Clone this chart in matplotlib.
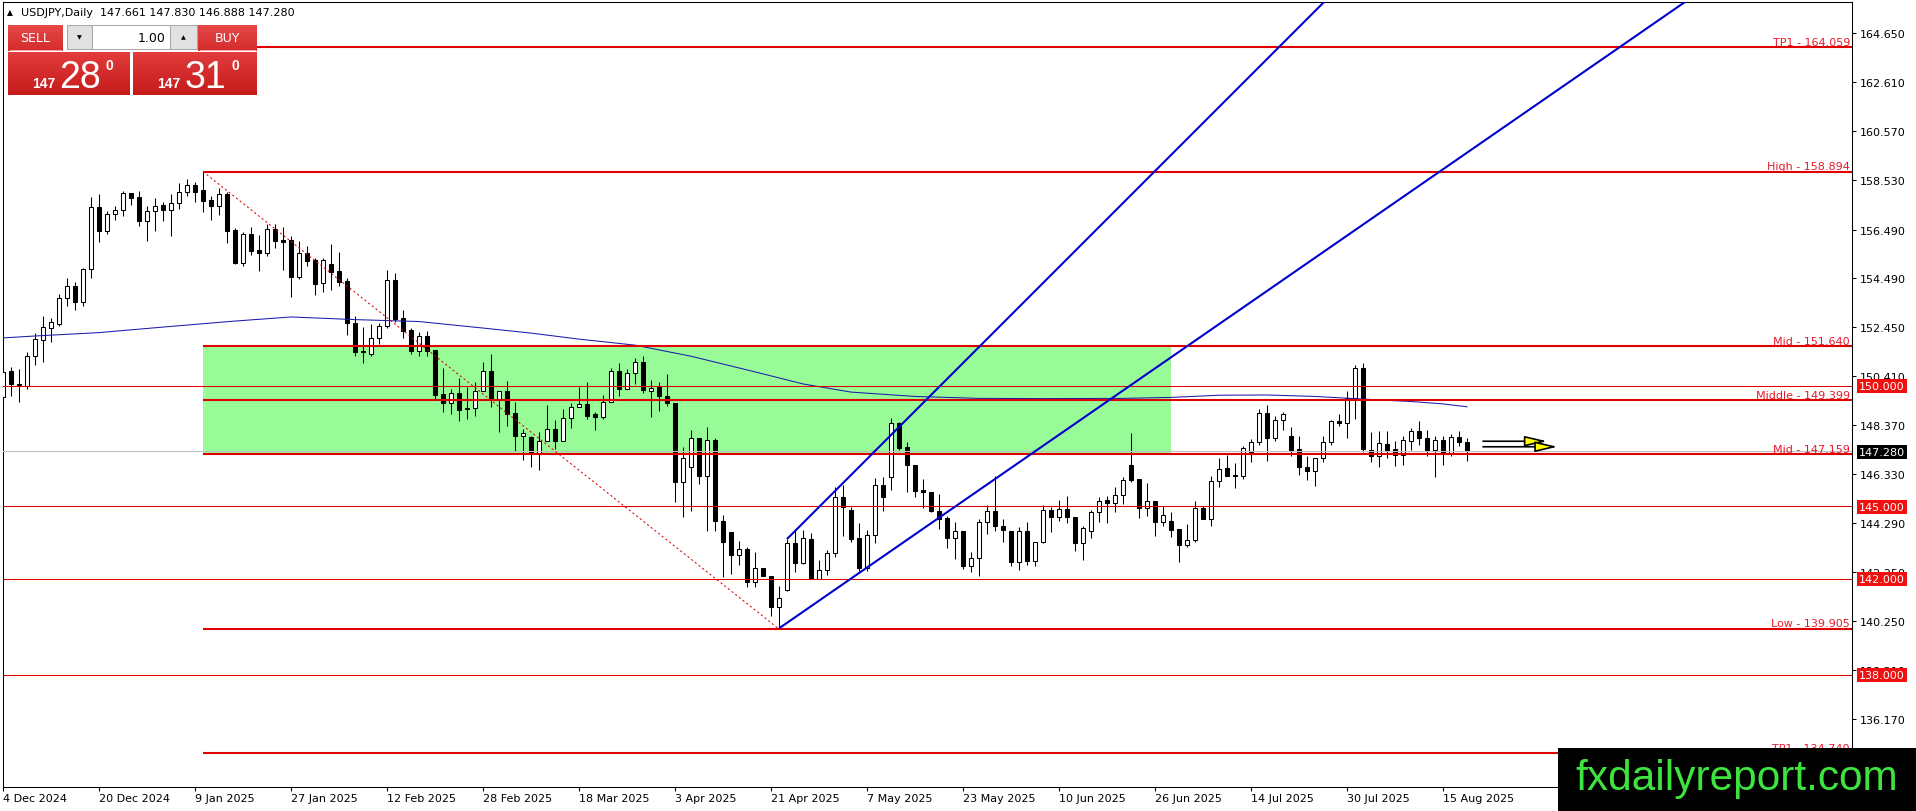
import numpy as np
import matplotlib
matplotlib.use("Agg")
import matplotlib.pyplot as plt
from matplotlib.patches import Rectangle
from matplotlib.colors import LinearSegmentedColormap

# USDJPY daily bars, bar 0 = 4 Dec 2024 ... bar 183 = 20 Aug 2025
opens = [149.55, 150.60, 150.06, 150.01, 151.23, 151.92, 152.42, 152.57, 153.63, 154.13,
         153.47, 154.85, 157.41, 156.44, 157.12, 157.31, 157.99, 157.83, 156.83, 157.27,
         157.49, 157.31, 157.58, 158.03, 158.34, 158.15, 157.72, 157.48, 157.97, 156.47,
         155.10, 156.29, 155.64, 155.50, 156.51, 156.05, 156.05, 154.50, 155.50, 155.24,
         154.26, 155.06, 154.75, 154.34, 152.61, 151.45, 151.31, 151.97, 152.47, 154.39,
         152.80, 152.32, 151.46, 152.05, 151.49, 149.66, 149.27, 149.70, 149.09, 149.07,
         149.77, 150.62, 149.45, 149.80, 148.87, 147.93, 147.89, 147.17, 147.70, 148.21,
         147.72, 148.65, 149.11, 149.23, 148.82, 148.72, 149.32, 150.63, 149.87, 150.52,
         151.00, 149.77, 149.97, 149.59, 149.27, 146.02, 146.62, 147.82, 146.27, 147.75,
         144.40, 143.92, 142.99, 143.23, 141.84, 142.42, 142.12, 140.83, 141.54, 143.48,
         142.63, 143.63, 141.98, 142.35, 143.06, 145.40, 144.85, 143.67, 142.42, 143.81,
         145.90, 146.20, 148.44, 147.45, 146.73, 145.67, 145.58, 144.82, 144.50, 143.67,
         143.99, 142.53, 142.84, 144.33, 144.82, 144.17, 143.98, 142.67, 143.96, 142.74,
         143.50, 144.85, 144.57, 144.89, 144.57, 143.46, 143.99, 144.75, 145.26, 145.12,
         145.47, 146.71, 146.13, 144.91, 145.23, 144.36, 144.40, 144.06, 143.40, 143.61,
         144.91, 144.47, 146.03, 146.58, 146.30, 146.24, 147.24, 147.68, 148.87, 147.85,
         148.58, 147.90, 147.38, 146.63, 146.48, 146.99, 147.65, 148.54, 148.44, 149.48,
         150.73, 147.34, 147.07, 147.57, 147.38, 147.13, 147.72, 148.11, 147.83, 147.35,
         147.75, 147.21, 147.86, 147.661]
highs = [151.18, 150.77, 150.70, 151.39, 152.19, 152.89, 152.80, 153.81, 154.46, 154.30,
         154.90, 157.83, 157.97, 157.27, 157.45, 158.10, 158.00, 158.08, 157.48, 157.81,
         157.62, 157.97, 158.42, 158.59, 158.48, 158.89, 157.90, 158.20, 158.06, 156.54,
         156.37, 156.58, 156.26, 156.72, 156.72, 156.58, 156.23, 156.03, 155.79, 155.29,
         155.29, 155.89, 155.54, 154.46, 152.89, 152.43, 152.57, 152.61, 154.81, 154.69,
         153.16, 152.39, 152.22, 152.29, 151.50, 150.73, 149.87, 150.33, 149.94, 150.15,
         150.98, 151.32, 149.80, 150.19, 149.34, 148.21, 147.90, 148.10, 149.20, 148.58,
         149.04, 149.29, 149.97, 150.15, 148.93, 149.62, 150.73, 150.95, 150.70, 151.14,
         151.22, 150.26, 150.17, 150.49, 149.28, 147.45, 148.18, 147.85, 148.28, 147.83,
         144.64, 143.92, 143.57, 143.30, 143.09, 142.43, 142.12, 141.68, 143.64, 144.06,
         144.03, 143.89, 142.77, 143.18, 145.78, 145.88, 144.96, 144.31, 144.03, 146.17,
         146.20, 148.65, 148.48, 147.65, 146.73, 146.13, 145.58, 145.51, 144.58, 144.36,
         143.99, 143.09, 144.47, 145.05, 146.27, 144.47, 143.98, 144.12, 144.36, 143.50,
         145.05, 144.98, 145.27, 145.44, 144.57, 144.19, 144.86, 145.37, 145.44, 145.79,
         146.20, 148.04, 146.13, 145.97, 145.23, 145.00, 144.75, 144.06, 144.26, 145.23,
         145.02, 146.24, 146.99, 147.13, 146.80, 147.52, 147.79, 149.04, 149.20, 148.76,
         148.93, 148.28, 147.93, 147.10, 146.99, 147.93, 148.60, 148.83, 149.80, 150.87,
         150.95, 148.07, 148.11, 148.11, 147.72, 147.93, 148.24, 148.54, 148.18, 147.93,
         147.93, 148.00, 148.14, 147.830]
lows = [149.30, 149.59, 149.34, 149.87, 150.87, 151.00, 151.81, 152.47, 153.33, 153.16,
        153.33, 154.46, 155.96, 156.30, 156.90, 157.07, 157.50, 156.65, 156.03, 156.44,
        156.86, 156.24, 157.34, 157.87, 157.65, 157.23, 156.90, 157.09, 155.93, 155.06,
        154.99, 155.43, 154.78, 155.38, 155.72, 154.82, 153.70, 154.43, 154.96, 153.77,
        153.91, 153.99, 154.16, 152.12, 151.23, 150.94, 151.23, 151.74, 152.39, 152.64,
        151.99, 151.32, 151.25, 151.25, 149.45, 148.93, 148.83, 148.55, 148.62, 148.73,
        149.77, 149.11, 148.10, 148.35, 147.31, 146.93, 146.62, 146.52, 147.70, 147.38,
        147.72, 148.24, 149.11, 148.62, 148.18, 148.62, 149.32, 149.56, 149.87, 150.08,
        149.70, 148.69, 148.97, 149.18, 145.19, 144.54, 144.82, 145.93, 143.99, 143.99,
        142.08, 142.19, 142.56, 141.64, 141.63, 142.10, 140.46, 139.90, 141.47, 142.28,
        142.60, 141.97, 141.97, 142.16, 142.88, 143.75, 143.53, 142.33, 142.33, 143.46,
        144.82, 145.69, 147.35, 145.61, 145.40, 144.91, 144.75, 144.06, 143.27, 142.81,
        142.39, 142.26, 142.12, 143.85, 143.96, 143.50, 142.53, 142.37, 142.56, 142.53,
        143.46, 143.95, 144.40, 144.30, 143.16, 142.78, 143.67, 144.33, 144.30, 144.75,
        145.09, 145.99, 144.50, 144.61, 143.75, 144.19, 143.71, 142.67, 143.32, 143.50,
        144.47, 144.19, 145.81, 146.24, 145.74, 146.13, 146.85, 147.54, 146.89, 147.72,
        148.18, 147.10, 146.30, 146.11, 145.86, 146.82, 147.54, 148.32, 147.82, 148.62,
        147.27, 146.85, 146.62, 146.99, 146.69, 146.71, 147.35, 147.54, 147.07, 146.20,
        146.71, 147.07, 147.52, 146.888]
closes = [150.59, 150.06, 150.04, 151.23, 151.94, 152.43, 152.64, 153.63, 154.13, 153.47,
          154.85, 157.41, 156.44, 157.13, 157.31, 157.99, 157.81, 156.83, 157.27, 157.48,
          157.31, 157.58, 158.03, 158.34, 158.06, 157.69, 157.48, 157.97, 156.44, 155.10,
          156.29, 155.61, 155.50, 156.51, 156.03, 155.96, 154.50, 155.50, 155.20, 154.23,
          155.23, 154.74, 154.33, 152.61, 151.42, 151.39, 151.97, 152.47, 154.39, 152.77,
          152.29, 151.46, 152.05, 151.46, 149.62, 149.27, 149.69, 149.01, 149.04, 149.77,
          150.62, 149.45, 149.77, 148.85, 147.93, 148.03, 147.17, 147.70, 148.21, 147.72,
          148.65, 149.11, 149.23, 148.76, 148.72, 149.32, 150.63, 149.87, 150.52, 151.00,
          149.84, 149.91, 149.59, 149.27, 146.02, 146.99, 147.82, 146.27, 147.75, 144.40,
          143.50, 142.99, 143.23, 141.84, 142.42, 142.12, 140.83, 141.18, 143.48, 142.63,
          143.67, 141.98, 142.35, 143.06, 145.40, 144.96, 143.64, 142.42, 143.81, 145.90,
          145.37, 148.44, 147.42, 146.73, 145.65, 145.60, 144.82, 144.47, 143.67, 143.99,
          142.53, 142.84, 144.33, 144.82, 144.17, 144.03, 142.70, 143.96, 142.74, 143.50,
          144.85, 144.57, 144.89, 144.54, 143.46, 144.08, 144.75, 145.23, 145.12, 145.47,
          146.09, 146.10, 144.91, 145.23, 144.36, 144.64, 144.03, 143.40, 143.61, 144.91,
          144.47, 146.03, 146.55, 146.27, 146.24, 147.40, 147.68, 148.87, 147.85, 148.58,
          148.82, 147.35, 146.62, 146.48, 146.99, 147.65, 148.54, 148.44, 149.48, 150.73,
          147.38, 147.07, 147.61, 147.35, 147.13, 147.75, 148.11, 147.82, 147.35, 147.75,
          147.21, 147.86, 147.65, 147.280]

date_ticks = [0, 12, 24, 36, 48, 60, 72, 84, 96, 108, 120, 132, 144, 156, 168, 180]
date_labels = ["4 Dec 2024", "20 Dec 2024", "9 Jan 2025", "27 Jan 2025", "12 Feb 2025",
               "28 Feb 2025", "18 Mar 2025", "3 Apr 2025", "21 Apr 2025", "7 May 2025",
               "23 May 2025", "10 Jun 2025", "26 Jun 2025", "14 Jul 2025", "30 Jul 2025",
               "15 Aug 2025"]
price_ticks = [164.650, 162.610, 160.570, 158.530, 156.490, 154.490, 152.450, 150.410,
               148.370, 146.330, 144.290, 142.250, 140.250, 138.210, 136.170]

# slow moving average, read at a few bars
ma_bars = [0, 4, 12, 20, 29, 36, 44, 52, 60, 66, 72, 79, 86, 94, 100, 106, 114, 122,
           130, 140, 146, 152, 158, 164, 170, 176, 180, 183]
ma_values = [151.99, 152.07, 152.21, 152.44, 152.69, 152.86, 152.75, 152.67, 152.40,
             152.19, 151.94, 151.69, 151.23, 150.58, 150.08, 149.74, 149.56, 149.48,
             149.47, 149.48, 149.52, 149.61, 149.62, 149.56, 149.45, 149.35, 149.25, 149.13]

# levels drawn from the swing high bar
level_names = ["TP1", "High", "Mid", "Middle", "Mid", "Low", "TP1"]
level_prices = [164.059, 158.894, 151.640, 149.399, 147.159, 139.905, 134.740]
level_start = 25
round_levels = [150.000, 145.000, 142.000, 138.000]
last_price = 147.280
ask_price = 147.310
zone_bars = (25, 146)
zone_prices = (147.159, 151.640)
swing_high = (25, 158.894)
swing_low = (97, 139.905)
channel_lines = [((98, 143.64), (126, 152.94)),
                 ((97, 139.93), (126, 146.59))]
arrows = [(185, 193.0, 147.70), (185, 194.3, 147.47)]

RED = "#e00000"
W, H = 1916, 812
fig = plt.figure(figsize=(W / 100, H / 100), dpi=100)
ax = fig.add_axes([3 / W, 24 / H, 1849 / W, 785 / H])

# zone
ax.add_patch(Rectangle((zone_bars[0], zone_prices[0]), zone_bars[1] - zone_bars[0],
                       zone_prices[1] - zone_prices[0], fc="#98fb98", ec="none", zorder=1))

# candles
bars = np.arange(len(opens))
o = np.array(opens)
c = np.array(closes)
ax.vlines(bars, lows, highs, color="black", lw=0.75, zorder=3)
body_low = np.minimum(o, c)
body_h = np.maximum(np.abs(c - o), 0.004)
fills = ["white" if cc >= oo else "black" for oo, cc in zip(o, c)]
ax.bar(bars, body_h, bottom=body_low, width=0.6, color=fills, edgecolor="black",
       linewidth=0.75, zorder=3.5)

ax.plot(ma_bars, ma_values, color="#1c1caa", lw=0.75, zorder=4)

# levels
for p in round_levels:
    ax.axhline(p, color=RED, lw=0.75, zorder=4.6)
    ax.annotate(f"{p:.3f}", xy=(1, p), xycoords=ax.get_yaxis_transform(),
                xytext=(7, -0.5), textcoords="offset pixels", ha="left", va="center",
                color="white", fontsize=8, zorder=9,
                bbox=dict(boxstyle="square,pad=0.18", fc="#f01010", ec="none"))
ax.axhline(last_price, color="#c0c0c0", lw=0.75, zorder=4.4)
ax.annotate(f"{last_price:.3f}", xy=(1, last_price), xycoords=ax.get_yaxis_transform(),
            xytext=(7, -0.5), textcoords="offset pixels", ha="left", va="center",
            color="white", fontsize=8, zorder=9,
            bbox=dict(boxstyle="square,pad=0.18", fc="black", ec="none"))

for name, p in zip(level_names, level_prices):
    ax.hlines(p, level_start, 400, color=RED, lw=1.5, zorder=5)
    ax.annotate(f"{name} - {p:.3f}", xy=(1, p), xycoords=ax.get_yaxis_transform(),
                xytext=(-2, 2.5), textcoords="offset pixels", ha="right", va="baseline",
                color="#e8192c", fontsize=8, zorder=8)

ax.plot([swing_high[0], swing_low[0]], [swing_high[1], swing_low[1]], color=RED,
        lw=0.75, ls=(0, (2, 2.5)), zorder=5)

for (b0, p0), (b1, p1) in channel_lines:
    slope = (p1 - p0) / (b1 - b0)
    ax.plot([b0, 400], [p0, p0 + slope * (400 - b0)], color="#0000cc", lw=1.5,
            zorder=6, solid_capstyle="butt")

for b0, b1, p in arrows:
    ax.annotate("", xy=(b1, p), xytext=(b0, p),
                arrowprops=dict(arrowstyle="-|>,head_length=1.35,head_width=0.32",
                                mutation_scale=10, fc="#ffff00", ec="black", lw=1.2,
                                shrinkA=0, shrinkB=0), zorder=7)

ax.set_xlim(0, 231.125)
ax.set_ylim(133.344, 165.937)
ax.set_xticks(date_ticks, labels=date_labels)
for t in ax.get_xticklabels():
    t.set_ha("left")
ax.set_yticks(price_ticks, labels=[f"{v:.3f}" for v in price_ticks])
ax.yaxis.tick_right()
ax.tick_params(axis="both", direction="out", length=3, width=0.75, labelsize=8,
               colors="black")
ax.tick_params(axis="x", pad=1.5)
ax.tick_params(axis="y", pad=2.5)
for s in ax.spines.values():
    s.set_linewidth(0.75)
    s.set_color("black")

# overlay in pixel coordinates: header, trade panel, watermark
ov = fig.add_axes([0, 0, 1, 1], zorder=10)
ov.axis("off")

ov.text(7, 13, "\u25b2", fontsize=5.5, va="center", ha="left")
ov.text(21, 13, f"USDJPY,Daily  {opens[-1]:.3f} {highs[-1]:.3f} {lows[-1]:.3f} {closes[-1]:.3f}",
        fontsize=8, va="center", ha="left")

top_cmap = LinearSegmentedColormap.from_list("t", ["#e54848", "#d42c2c"])
big_cmap = LinearSegmentedColormap.from_list("b", ["#e23c3c", "#c41a1a"])
grad = np.linspace(0, 1, 64)[:, None]
for x0, x1 in [(8, 63), (198, 257)]:
    ov.imshow(grad, extent=(x0, x1, 52, 26), cmap=top_cmap, aspect="auto", zorder=1)
    ov.plot([x0 + 2, x1 - 2], [51, 51], color="#f3a3a3", lw=0.75, zorder=2)
for x0, x1 in [(8, 130), (133, 257)]:
    ov.imshow(grad, extent=(x0, x1, 96, 53), cmap=big_cmap, aspect="auto", zorder=1)
ov.text(35.5, 39, "SELL", color="white", fontsize=9, ha="center", va="center", zorder=3)
ov.text(227.5, 39, "BUY", color="white", fontsize=9, ha="center", va="center", zorder=3)
ov.add_patch(Rectangle((67, 26), 25, 24, fc="#e1e1e1", ec="#a8a8a8", lw=0.75, zorder=2))
ov.add_patch(Rectangle((92, 26), 78, 24, fc="white", ec="#a8a8a8", lw=0.75, zorder=2))
ov.add_patch(Rectangle((170, 26), 27, 24, fc="#e1e1e1", ec="#a8a8a8", lw=0.75, zorder=2))
ov.text(79.5, 38, "\u25bc", fontsize=4.5, ha="center", va="center", zorder=3)
ov.text(183.5, 38, "\u25b2", fontsize=4.5, ha="center", va="center", zorder=3)
ov.text(166, 38.5, "1.00", fontsize=9, ha="right", va="center", zorder=3)

for price, xs in [(last_price, (32, 59, 106)), (ask_price, (157, 185, 232))]:
    s = f"{price:.3f}"
    big, small = s.split(".")
    ov.text(xs[0], 87.5, big, color="white", fontsize=10, fontweight="bold",
            family="Liberation Sans", ha="left", va="baseline", zorder=3)
    ov.text(xs[1], 87.5, small[:2], color="white", fontsize=27,
            family="Liberation Sans", ha="left", va="baseline", zorder=3)
    ov.text(xs[2], 70.5, small[2], color="white", fontsize=10, fontweight="bold",
            family="Liberation Sans", ha="left", va="baseline", zorder=3)

ov.add_patch(Rectangle((1558, 749), 358, 63, fc="black", ec="none", zorder=4))
ov.text(1575, 790, "fxdailyreport.com", color="#3ee43e", fontsize=30.5,
        family="Liberation Sans", ha="left", va="baseline", zorder=5)

ov.set_xlim(0, W)
ov.set_ylim(H, 0)

fig.savefig("out.png", dpi=100)
